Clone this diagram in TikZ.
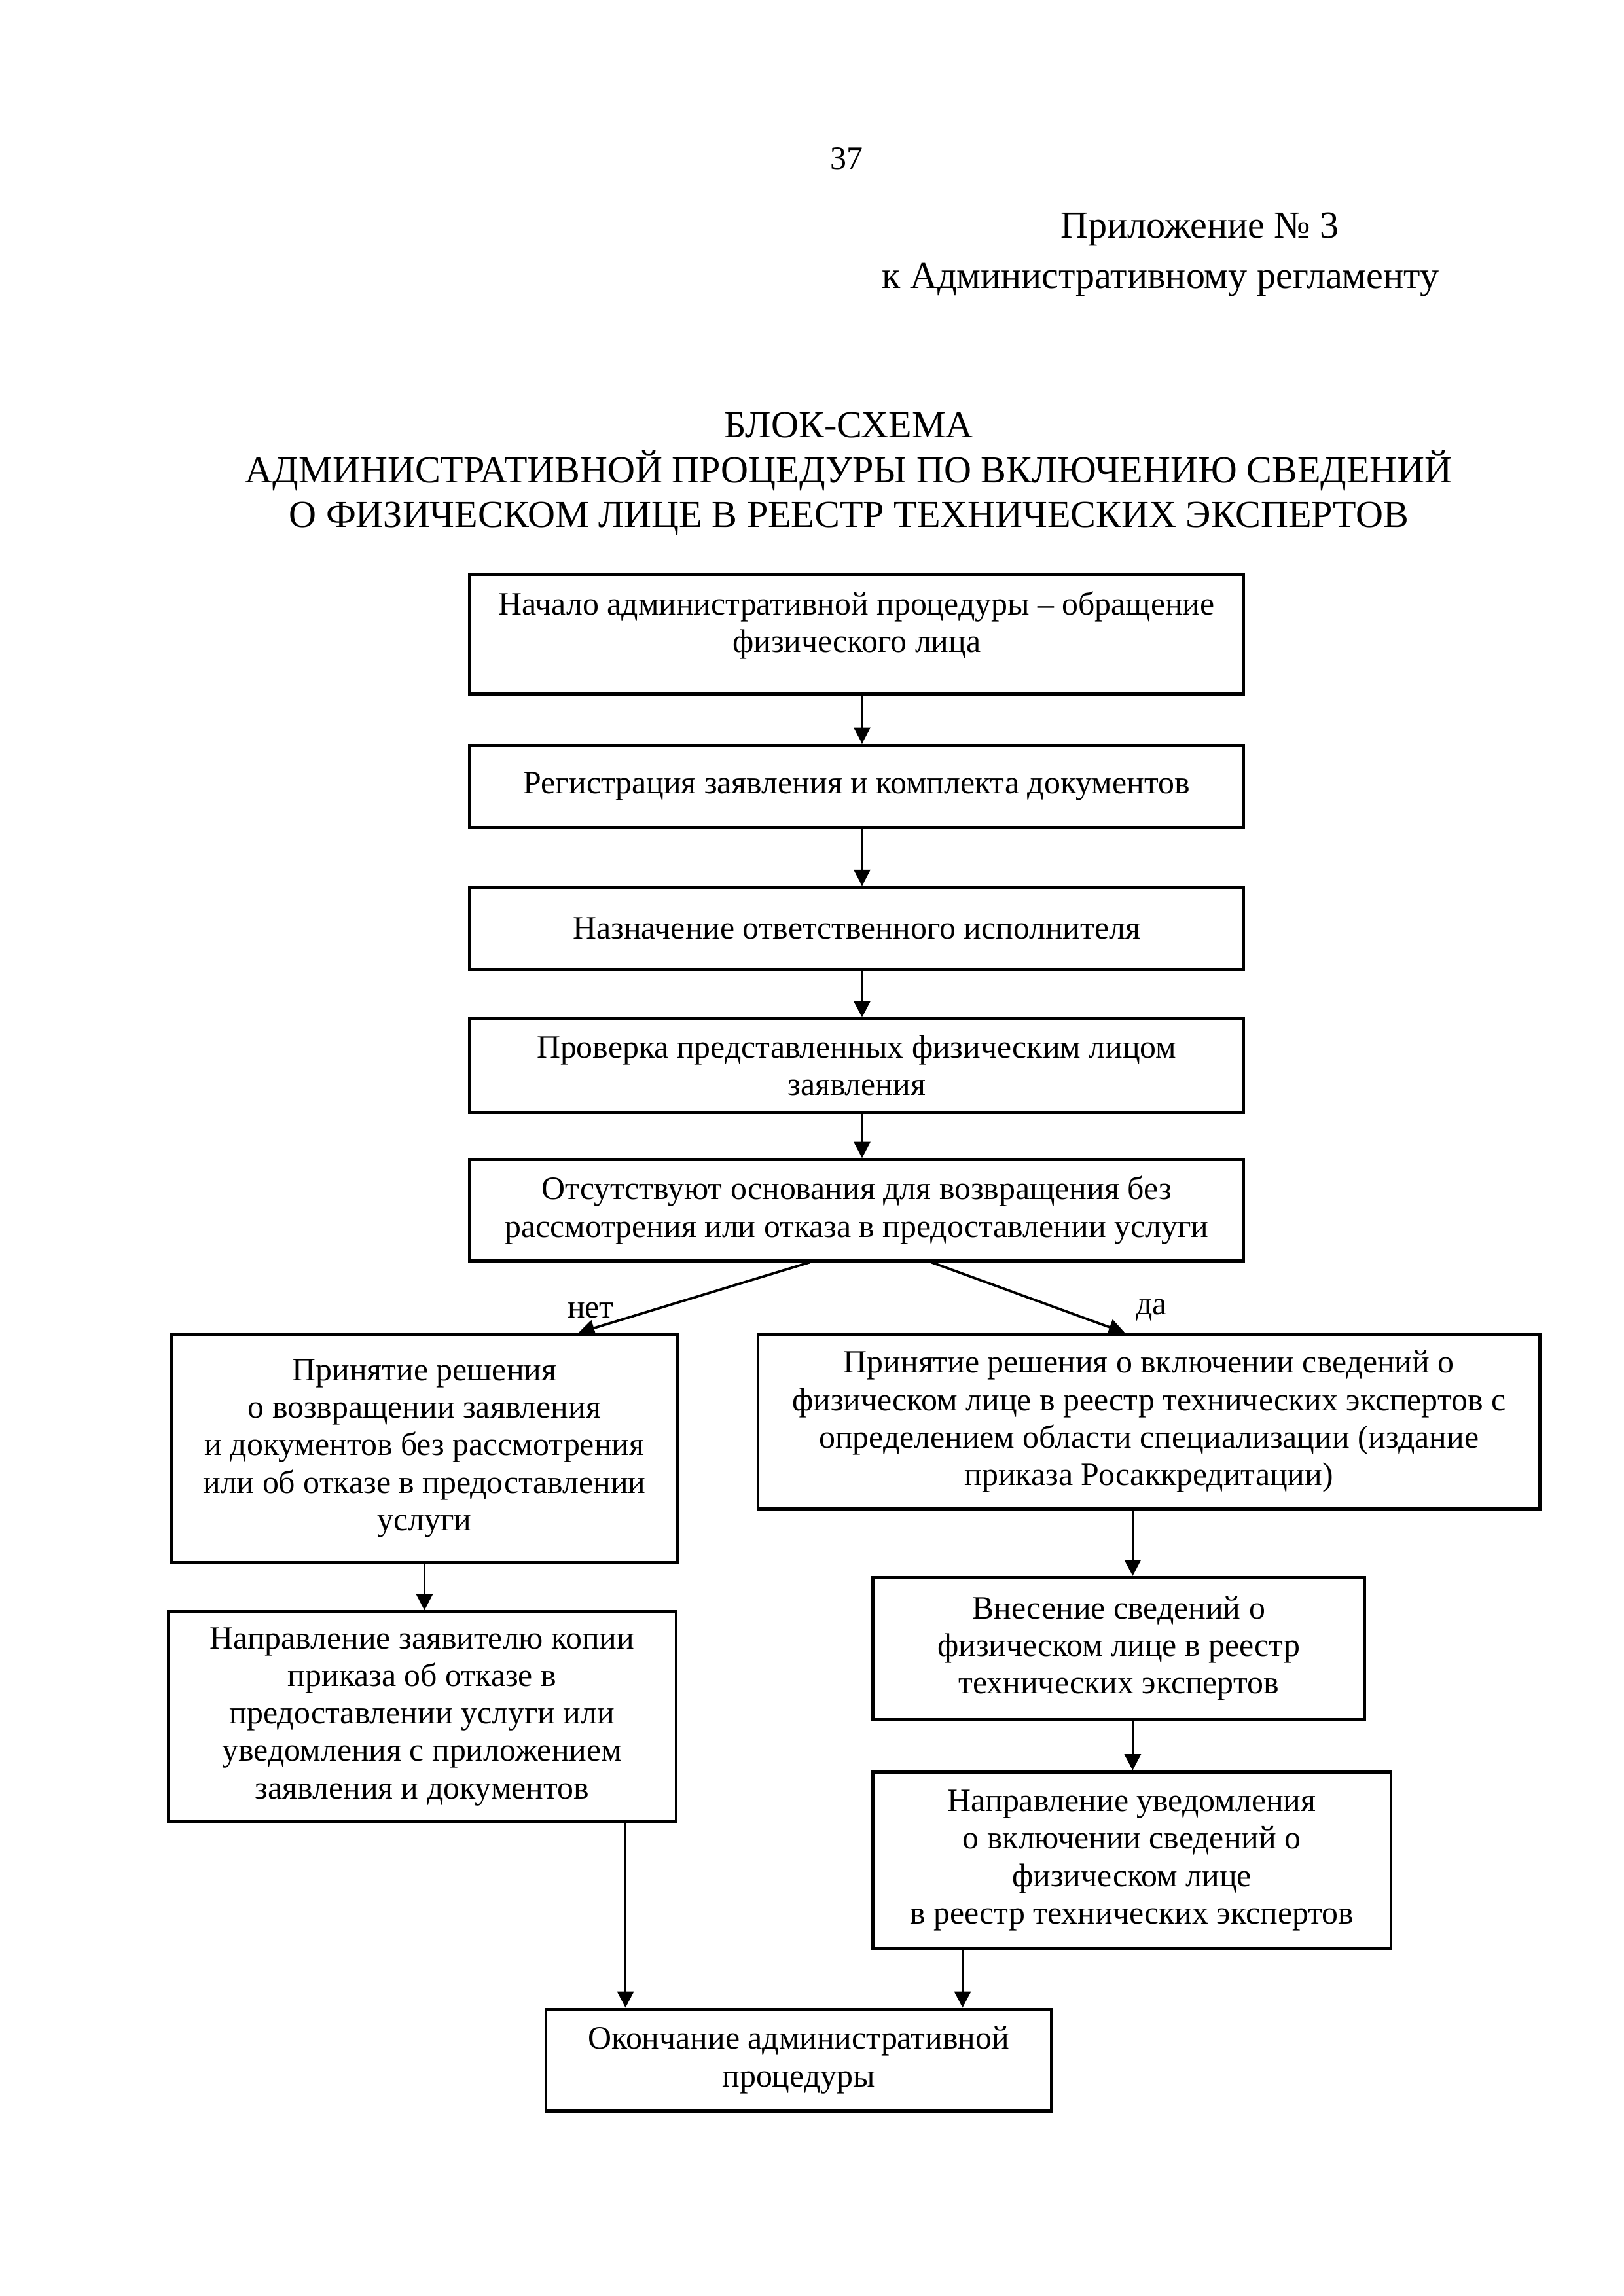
\documentclass[tikz,border=0pt]{standalone}
\usepackage{fontspec}
\setmainfont{Liberation Serif}
\usetikzlibrary{arrows.meta}
\begin{document}
\begin{tikzpicture}[line width=1.1pt,
  blk/.style={draw, align=center, inner sep=2pt, font=\fontsize{12}{13.8}\selectfont},
  arr/.style={line width=0.9pt, -{Triangle[length=2.1mm,width=2.1mm]}},
  hdr/.style={font=\fontsize{14}{16.5}\selectfont, inner sep=0pt},
  lbl/.style={font=\fontsize{12}{13.8}\selectfont, inner sep=1pt}]
  \useasboundingbox (0,0) rectangle (21,-29.7);
  \node[hdr, font=\fontsize{12}{14}\selectfont] (page) at (10.95,-2.05) {37};
  \node[hdr, anchor=east] (annex) at (17.34,-2.97) {Приложение № 3};
  \node[hdr, anchor=east] (annexto) at (18.63,-3.62) {к Административному регламенту};
  \node[hdr, align=center] (title) at (10.98,-6.13) {БЛОК-СХЕМА\\АДМИНИСТРАТИВНОЙ ПРОЦЕДУРЫ ПО ВКЛЮЧЕНИЮ СВЕДЕНИЙ\\О ФИЗИЧЕСКОМ ЛИЦЕ В РЕЕСТР ТЕХНИЧЕСКИХ ЭКСПЕРТОВ};
  \node[blk, text depth=9pt, minimum width=10.01cm, minimum height=1.55cm] (start) at (11.08,-8.205) {Начало административной процедуры – обращение\\физического лица};
  \node[blk, minimum width=10.01cm, minimum height=1.06cm] (reg) at (11.08,-10.17) {Регистрация заявления и комплекта документов};
  \node[blk, minimum width=10.01cm, minimum height=1.06cm] (assign) at (11.08,-12.01) {Назначение ответственного исполнителя};
  \node[blk, minimum width=10.01cm, minimum height=1.21cm] (check) at (11.08,-13.785) {Проверка представленных физическим лицом\\заявления};
  \node[blk, minimum width=10.01cm, minimum height=1.31cm] (cond) at (11.08,-15.655) {Отсутствуют основания для возвращения без\\рассмотрения или отказа в предоставлении услуги};
  \node[blk, minimum width=6.55cm, minimum height=2.95cm] (refuse) at (5.49,-18.735) {Принятие решения\\о возвращении заявления\\и документов без рассмотрения\\или об отказе в предоставлении\\услуги};
  \node[blk, minimum width=10.11cm, minimum height=2.26cm] (accept) at (14.86,-18.39) {Принятие решения о включении сведений о\\физическом лице в реестр технических экспертов с\\определением области специализации (издание\\приказа Росаккредитации)};
  \node[blk, minimum width=6.57cm, minimum height=2.71cm] (sendcopy) at (5.46,-22.205) {Направление заявителю копии\\приказа об отказе в\\предоставлении услуги или\\уведомления с приложением\\заявления и документов};
  \node[blk, minimum width=6.36cm, minimum height=1.84cm] (enter) at (14.47,-21.325) {Внесение сведений о\\физическом лице в реестр\\технических экспертов};
  \node[blk, minimum width=6.70cm, minimum height=2.29cm] (notice) at (14.64,-24.065) {Направление уведомления\\о включении сведений о\\физическом лице\\в реестр технических экспертов};
  \node[blk, minimum width=6.54cm, minimum height=1.32cm] (finish) at (10.33,-26.65) {Окончание административной\\процедуры};
  \node[lbl] (no) at (7.64,-16.95) {нет};
  \node[lbl] (yes) at (14.89,-16.95) {да};
  \draw[arr] ([xshift=0.7mm]start.south) -- ([xshift=0.7mm]reg.north);
  \draw[arr] ([xshift=0.7mm]reg.south) -- ([xshift=0.7mm]assign.north);
  \draw[arr] ([xshift=0.7mm]assign.south) -- ([xshift=0.7mm]check.north);
  \draw[arr] ([xshift=0.7mm]check.south) -- ([xshift=0.7mm]cond.north);
  \draw[arr] ([xshift=-6.1mm]cond.south) -- ([xshift=19.9mm]refuse.north);
  \draw[arr] ([xshift=9.7mm]cond.south) -- ([xshift=-3.1mm]accept.north);
  \draw[arr] (refuse.south) -- (refuse.south |- sendcopy.north);
  \draw[arr] ([xshift=-2.1mm]accept.south) -- ([xshift=-2.1mm]accept.south |- enter.north);
  \draw[arr] ([xshift=1.8mm]enter.south) -- ([xshift=1.8mm]enter.south |- notice.north);
  \draw[arr] ([xshift=26.3mm]sendcopy.south) -- ([xshift=26.3mm]sendcopy.south |- finish.north);
  \draw[arr] ([xshift=-21.9mm]notice.south) -- ([xshift=-21.9mm]notice.south |- finish.north);
\end{tikzpicture}
\end{document}
